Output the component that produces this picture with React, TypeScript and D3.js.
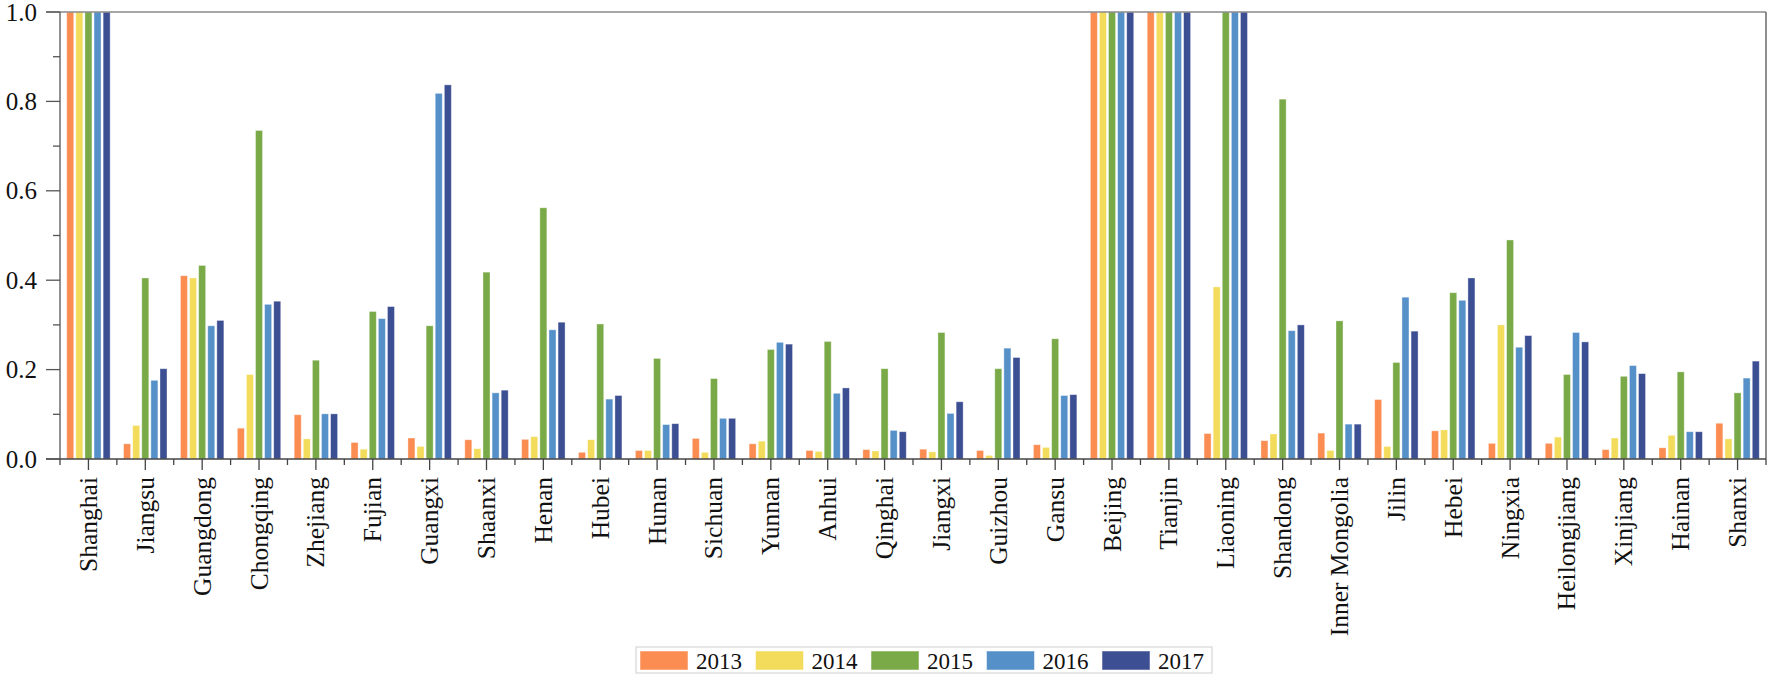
import React from "react";
import * as d3 from "d3";

const categories = [
  "Shanghai", "Jiangsu", "Guangdong", "Chongqing", "Zhejiang", "Fujian", "Guangxi", "Shaanxi",
  "Henan", "Hubei", "Hunan", "Sichuan", "Yunnan", "Anhui", "Qinghai", "Jiangxi", "Guizhou",
  "Gansu", "Beijing", "Tianjin", "Liaoning", "Shandong", "Inner Mongolia", "Jilin", "Hebei",
  "Ningxia", "Heilongjiang", "Xinjiang", "Hainan", "Shanxi",
];

const years = ["2013", "2014", "2015", "2016", "2017"];

const v2013 = [1, 0.034, 0.41, 0.069, 0.099, 0.037, 0.047, 0.043, 0.044, 0.015, 0.019, 0.046, 0.034, 0.019, 0.021, 0.022, 0.019, 0.032, 1, 1, 0.057, 0.041, 0.058, 0.133, 0.063, 0.035, 0.035, 0.021, 0.025, 0.08];
const v2014 = [1, 0.075, 0.405, 0.189, 0.045, 0.022, 0.028, 0.023, 0.05, 0.043, 0.019, 0.015, 0.04, 0.017, 0.018, 0.016, 0.008, 0.026, 1, 1, 0.385, 0.056, 0.019, 0.028, 0.065, 0.3, 0.049, 0.047, 0.053, 0.045];
const v2015 = [1, 0.405, 0.433, 0.735, 0.221, 0.33, 0.298, 0.418, 0.562, 0.302, 0.225, 0.18, 0.245, 0.263, 0.202, 0.283, 0.202, 0.269, 1, 1, 1, 0.805, 0.309, 0.216, 0.372, 0.49, 0.189, 0.185, 0.195, 0.148];
const v2016 = [1, 0.176, 0.298, 0.346, 0.101, 0.314, 0.818, 0.148, 0.289, 0.134, 0.077, 0.091, 0.261, 0.147, 0.064, 0.102, 0.248, 0.142, 1, 1, 1, 0.287, 0.078, 0.362, 0.355, 0.25, 0.283, 0.209, 0.061, 0.181];
const v2017 = [1, 0.202, 0.31, 0.353, 0.101, 0.341, 0.837, 0.154, 0.306, 0.142, 0.079, 0.091, 0.257, 0.159, 0.061, 0.128, 0.227, 0.144, 1, 1, 1, 0.3, 0.078, 0.286, 0.405, 0.276, 0.262, 0.191, 0.061, 0.219];

const series = [v2013, v2014, v2015, v2016, v2017];
const colors = ["#FB8C52", "#F3DC5B", "#79AA47", "#5590C8", "#3D4F93"];

const yMajor = [0, 0.2, 0.4, 0.6, 0.8, 1.0];
const yMinor = [0.1, 0.3, 0.5, 0.7, 0.9];

const FONT = "'Liberation Serif', 'Times New Roman', serif";

export default function App() {
  const W = 1770, H = 679;
  const left = 60, right = 1766, top = 12, bottom = 459;
  const x = d3.scaleBand<string>().domain(categories).range([left, right]);
  const bw = x.bandwidth();
  const inner = d3.scaleBand<string>().domain(years).range([bw / 2 - 21.7, bw / 2 + 21.7]).paddingInner(0.23);
  const y = d3.scaleLinear().domain([0, 1]).range([bottom, top]);
  const ts = { fontFamily: FONT } as React.CSSProperties;

  return (
    <svg width={W} height={H} style={{ position: "absolute", left: 0, top: 0, background: "#fff", fontFamily: FONT }}>
      <rect x={0} y={0} width={W} height={H} fill="#fff" />
      {categories.map((c, ci) => (
        <g key={c} transform={`translate(${x(c)},0)`}>
          {series.map((s, si) => (
            <rect
              key={si}
              x={inner(years[si])}
              y={y(s[ci])}
              width={inner.bandwidth()}
              height={y(0) - y(s[ci])}
              fill={colors[si]}
              stroke="#ffffff"
              strokeOpacity={0.45}
              strokeWidth={0.8}
            />
          ))}
        </g>
      ))}
      <line x1={46} x2={right} y1={top} y2={top} stroke="#8a8a8a" strokeWidth={1.5} />
      <line x1={right} x2={right} y1={top} y2={bottom} stroke="#6a6a6a" strokeWidth={1.5} />
      <line x1={left} x2={left} y1={top} y2={bottom} stroke="#555" strokeWidth={1.3} />
      <line x1={46} x2={right} y1={bottom} y2={bottom} stroke="#444" strokeWidth={1.5} />
      {yMajor.map((t) => (
        <g key={t}>
          <line x1={46} x2={left} y1={y(t)} y2={y(t)} stroke="#555" strokeWidth={1.3} />
          <text style={ts} x={37} y={y(t)} textAnchor="end" dominantBaseline="central" fontSize={25} fill="#111">
            {d3.format(".1f")(t)}
          </text>
        </g>
      ))}
      {yMinor.map((t) => (
        <line key={t} x1={53} x2={left} y1={y(t)} y2={y(t)} stroke="#555" strokeWidth={1.3} />
      ))}
      {categories.map((c) => (
        <g key={c}>
          <line x1={x(c)} x2={x(c)} y1={bottom} y2={bottom + 6} stroke="#444" strokeWidth={1.3} />
          <line x1={x(c)! + bw / 2} x2={x(c)! + bw / 2} y1={bottom} y2={bottom + 11} stroke="#444" strokeWidth={1.3} />
          <text
            style={ts}
            transform={`translate(${x(c)! + bw / 2},${477}) rotate(-90)`}
            textAnchor="end"
            dominantBaseline="central"
            fontSize={25.5}
            fill="#111"
          >
            {c}
          </text>
        </g>
      ))}
      <line x1={right} x2={right} y1={bottom} y2={bottom + 6} stroke="#444" strokeWidth={1.3} />
      <rect x={636} y={647} width={576} height={26} fill="#fff" stroke="#cfcfcf" strokeWidth={1} />
      {years.map((yr, i) => (
        <g key={yr} transform={`translate(${640 + i * 115.5},0)`}>
          <rect x={0} y={651} width={48} height={19} fill={colors[i]} stroke="#fff" strokeOpacity={0.5} />
          <text style={ts} x={56} y={661} dominantBaseline="central" fontSize={23} fill="#111">
            {yr}
          </text>
        </g>
      ))}
    </svg>
  );
}
